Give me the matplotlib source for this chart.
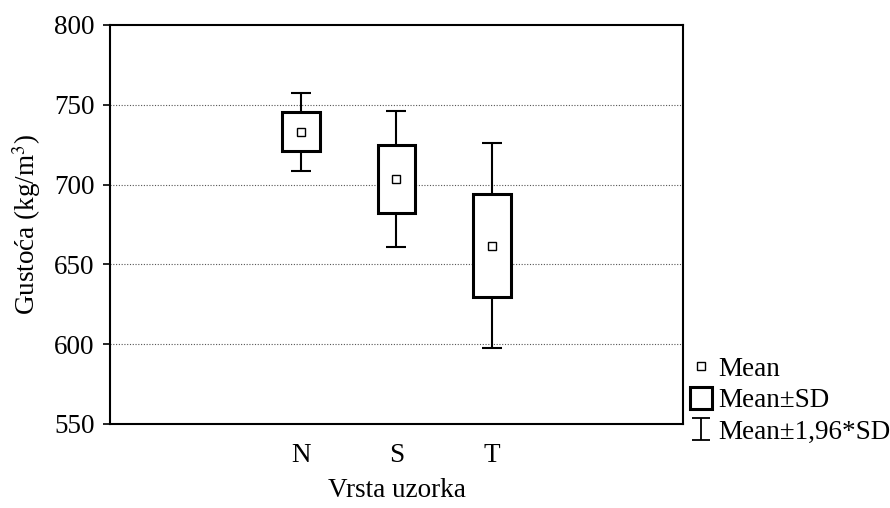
import matplotlib
matplotlib.use("Agg")
from matplotlib import pyplot as plt
from matplotlib.lines import Line2D
from matplotlib.path import Path
import numpy as np

# podaci (ocitano sa slike)
uzorci = ["N", "S", "T"]
mean = [733.0, 703.3, 661.7]
sd_low = [720.8, 682.1, 629.8]
sd_high = [745.2, 724.8, 693.9]
ci_low = [708.8, 661.0, 597.6]
ci_high = [757.3, 746.0, 726.3]
y_ticks = [550, 600, 650, 700, 750, 800]

plt.rcParams['font.family'] = ['Liberation Serif', 'DejaVu Serif']
plt.rcParams['mathtext.fontset'] = 'stix'
plt.rcParams['font.size'] = 19.5

fig = plt.figure(figsize=(8.9, 5.08), dpi=100)
ax = fig.add_axes([0.1236, 0.1654, 0.6438, 0.7854])

x = np.arange(len(uzorci))
mean_a = np.array(mean)

# mreza
for y in y_ticks[1:-1]:
    ax.axhline(y, color='#555555', lw=0.8, ls=(0, (1, 1.5)), zorder=0)

# Mean +- 1,96*SD
ax.errorbar(x, mean_a, yerr=[mean_a - np.array(ci_low), np.array(ci_high) - mean_a],
            fmt='none', ecolor='black', elinewidth=1.5, capsize=7.5, capthick=1.5, zorder=2)
# Mean +- SD
ax.bar(x, np.array(sd_high) - np.array(sd_low), bottom=sd_low, width=0.39,
       facecolor='white', edgecolor='black', linewidth=2.2, zorder=3)
# Mean
ax.plot(x, mean_a, ls='none', marker='s', ms=6, mfc='white', mec='black', mew=1.0, zorder=4)

ax.set_xlim(-2, 4)
ax.set_ylim(550, 800)
ax.set_xticks(x)
ax.set_xticklabels(uzorci)
ax.set_yticks(y_ticks)
ax.tick_params(axis='x', length=0, pad=14)
ax.tick_params(axis='y', length=5, width=1.2, direction='out', pad=6)
for s in ax.spines.values():
    s.set_linewidth(1.5)

ax.set_xlabel("Vrsta uzorka", labelpad=7)
ax.set_ylabel("Gusto\u0107a (kg/m$^3$)", labelpad=8)

# legenda
whisk = Path([(0, -1), (0, 1), (-0.85, -1), (0.85, -1), (-0.85, 1), (0.85, 1)],
             [Path.MOVETO, Path.LINETO, Path.MOVETO, Path.LINETO, Path.MOVETO, Path.LINETO])
h_mean = Line2D([], [], ls='none', marker='s', ms=5.5, mfc='white', mec='black', mew=1.0)
h_sd = Line2D([], [], ls='none', marker='s', ms=16, mfc='white', mec='black', mew=2.2)
h_ci = Line2D([], [], ls='none', marker=whisk, ms=16, mec='black', mew=1.3)
fig.legend([h_mean, h_sd, h_ci], ["Mean", "Mean\u00b1SD", "Mean\u00b11,96*SD"],
           loc='lower left', bbox_to_anchor=(0.7573, 0.098), frameon=False,
           handlelength=1.0, handletextpad=0.13, labelspacing=0.24, borderpad=0)

plt.savefig("out.png", dpi=100)
